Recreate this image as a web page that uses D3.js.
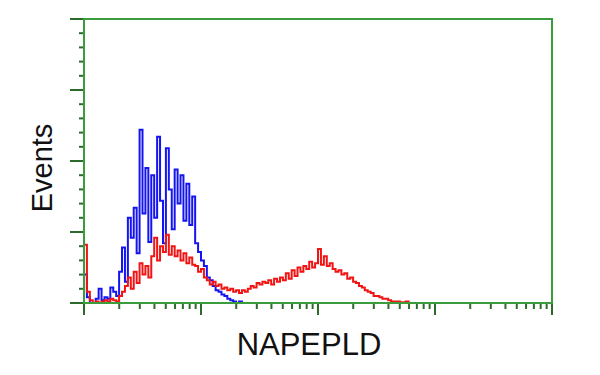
<!DOCTYPE html>
<html>
<head>
<meta charset="utf-8">
<script src="https://cdn.jsdelivr.net/npm/d3@7"></script>
<style>
    body { margin: 0; background: #fff; }
</style>
</head>
<body>
<svg></svg>
<script>
// histogram channels, each bin is 0.025 decade wide starting at 10^0
let binStep = 0.025;

let blueCounts = [
    20, 4, 0, 0, 3, 10, 2, 4, 3, 11,
    8, 5, 22, 39, 15, 60, 46, 67, 35, 122,
    63, 95, 43, 90, 60, 117, 72, 42, 109, 80,
    52, 94, 70, 90, 58, 84, 55, 75, 42, 36,
    30, 26, 18, 16, 12, 9, 8, 6, 5, 3,
    2, 1, 0, 1, 0
];

let redCounts = [
    41, 8, 2, 0, 1, 0, 1, 2, 1, 3,
    2, 1, 5, 8, 12, 18, 10, 22, 14, 28,
    20, 26, 18, 33, 46, 30, 40, 36, 48, 34,
    40, 33, 37, 30, 35, 28, 32, 27, 26, 22,
    24, 18, 16, 13, 15, 12, 13, 10, 11, 9,
    10, 8, 9, 7, 9, 8, 10, 12, 11, 14,
    13, 15, 14, 16, 13, 17, 15, 18, 16, 21,
    17, 23, 19, 25, 22, 26, 24, 29, 25, 28,
    38, 27, 33, 26, 28, 24, 22, 23, 20, 21,
    17, 18, 15, 14, 12, 11, 9, 8, 7, 5,
    5, 4, 3, 3, 2, 1, 1, 1, 0.5, 0.5,
    1, 0
];

let xMajorTicks = [1, 10, 100, 1000, 10000];
let yMajorTicks = [0, 50, 100, 150, 200];

window.onload = () => {
    let width = 600;
    let height = 375;

    let svg = d3.select('svg')
        .attr('width', width)
        .attr('height', height)
        .attr('font-family', 'Liberation Sans, Arial, sans-serif');

    let x = d3.scaleLog().domain([1, 10000]).range([84, 552]);
    let y = d3.scaleLinear().domain([0, 200]).range([303, 19]);

    let toBins = counts => {
        let pts = counts.map((c, i) => ({ v: Math.pow(10, i * binStep), c: c }));
        pts.push({ v: Math.pow(10, counts.length * binStep), c: counts[counts.length - 1] });
        return pts;
    };

    let line = d3.line()
        .x(d => x(d.v))
        .y(d => y(d.c))
        .curve(d3.curveStepAfter);

    // ticks
    let tickColor = '#2d6b2d';

    svg.append('g')
        .selectAll('line')
        .data(x.ticks())
        .enter()
        .append('line')
        .attr('x1', d => x(d))
        .attr('x2', d => x(d))
        .attr('y1', y(0))
        .attr('y2', d => y(0) + (xMajorTicks.includes(d) ? 12 : 6))
        .attr('stroke', tickColor)
        .attr('stroke-width', 2);

    svg.append('g')
        .selectAll('line')
        .data(y.ticks(20))
        .enter()
        .append('line')
        .attr('y1', d => y(d))
        .attr('y2', d => y(d))
        .attr('x1', x(1))
        .attr('x2', d => x(1) - (yMajorTicks.includes(d) ? 14 : 5))
        .attr('stroke', tickColor)
        .attr('stroke-width', 2);

    svg.append('path')
        .datum(toBins(blueCounts))
        .attr('d', line)
        .attr('fill', 'none')
        .attr('stroke', '#1414f0')
        .attr('stroke-width', 2);

    svg.append('path')
        .datum(toBins(redCounts))
        .attr('d', line)
        .attr('fill', 'none')
        .attr('stroke', '#f01414')
        .attr('stroke-width', 2);

    // frame
    svg.append('rect')
        .attr('x', x(1))
        .attr('y', y(200))
        .attr('width', x(10000) - x(1))
        .attr('height', y(0) - y(200))
        .attr('fill', 'none')
        .attr('stroke', '#3a9c3a')
        .attr('stroke-width', 2);

    svg.append('text')
        .attr('x', 309)
        .attr('y', 355)
        .attr('text-anchor', 'middle')
        .attr('font-size', 31)
        .attr('fill', '#111')
        .text('NAPEPLD');

    svg.append('text')
        .attr('transform', 'translate(52, 168) rotate(-90)')
        .attr('text-anchor', 'middle')
        .attr('font-size', 29)
        .attr('fill', '#111')
        .text('Events');
};
</script>
</body>
</html>
